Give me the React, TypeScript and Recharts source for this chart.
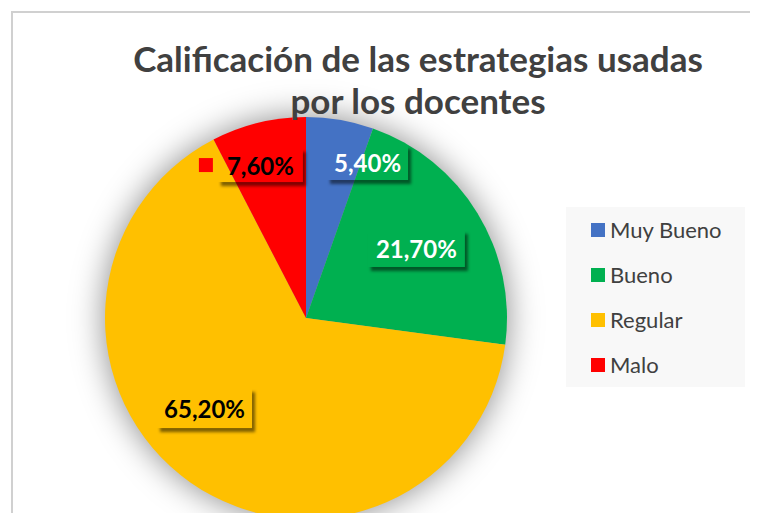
import React from 'react';
import { PieChart, Pie, Cell, Legend } from 'recharts';

const categories = ['Muy Bueno', 'Bueno', 'Regular', 'Malo'];
const values = [5.4, 21.7, 65.2, 7.6];
const labelTexts = ['5,40%', '21,70%', '65,20%', '7,60%'];
const titleLines = ['Calificación de las estrategias usadas', 'por los docentes'];

const colors = ['#4472C4', '#00B050', '#FFC000', '#FF0000'];
const labelTextColors = ['#FFFFFF', '#FFFFFF', '#000000', '#000000'];
// label placement (fraction of radius, angle in degrees), box sizes, key flag
const labelPlacement = [
  { rf: 0.832, deg: 68.4, w: 81, h: 35, key: false },
  { rf: 0.649, deg: 32.2, w: 97, h: 37, key: false },
  { rf: 0.675, deg: 221.6, w: 95, h: 40, key: false },
  { rf: 0.794, deg: 106.6, w: 85, h: 34, key: true },
];

const data = categories.map((name, i) => ({ name, value: values[i] }));

const FONT = 'Lato, "Noto Sans", sans-serif';

function renderLabel(props: any) {
  const { cx, cy, outerRadius, index } = props;
  const p = labelPlacement[index];
  const a = (p.deg * Math.PI) / 180;
  const mx = cx + outerRadius * p.rf * Math.cos(a);
  const my = cy - outerRadius * p.rf * Math.sin(a);
  const x = mx - p.w / 2;
  const y = my - p.h / 2;
  const mid = `lblmask-${index}`;
  return (
    <g key={`lbl-${index}`}>
      <defs>
        <mask id={mid} maskUnits="userSpaceOnUse" x={x - 20} y={y - 20} width={p.w + 40} height={p.h + 40}>
          <rect x={x - 20} y={y - 20} width={p.w + 40} height={p.h + 40} fill="#fff" />
          <rect x={x} y={y} width={p.w} height={p.h} fill="#000" />
        </mask>
      </defs>
      <g mask={`url(#${mid})`}>
        <rect x={x + 3} y={y + 4} width={p.w} height={p.h} fill="#000" fillOpacity={0.5} filter="url(#lblBlur)" />
      </g>
      {p.key && (
        <rect x={x - 19} y={my - 7} width={14} height={14} fill={colors[index]} />
      )}
      <text
        x={mx}
        y={my}
        textAnchor="middle"
        dominantBaseline="central"
        fill={labelTextColors[index]}
        fontFamily={FONT}
        fontWeight={700}
        fontSize={24}
      >
        {labelTexts[index]}
      </text>
    </g>
  );
}

function LegendContent() {
  return (
    <div
      style={{
        width: 179,
        height: 180,
        background: '#F8F8F8',
        boxSizing: 'border-box',
        paddingTop: 0,
        fontFamily: FONT,
      }}
    >
      {categories.map((c, i) => (
        <div key={c} style={{ display: 'flex', alignItems: 'center', height: 45, paddingLeft: 25 }}>
          <span style={{ width: 14, height: 14, background: colors[i], display: 'inline-block', marginRight: 5, flexShrink: 0 }} />
          <span style={{ fontSize: 22, color: '#404040', lineHeight: '22px' }}>{c}</span>
        </div>
      ))}
    </div>
  );
}

export default function App() {
  return (
    <div style={{ position: 'relative', width: 750, height: 505, overflow: 'hidden', background: '#fff' }}>
      <style>{`.pie-shadow { filter: url(#pieBlur); }`}</style>
      <svg width={0} height={0} style={{ position: 'absolute' }}>
        <defs>
          <filter id="pieBlur" x="-40%" y="-40%" width="180%" height="180%">
            <feGaussianBlur stdDeviation={11} />
          </filter>
          <filter id="lblBlur" x="-30%" y="-60%" width="160%" height="220%">
            <feGaussianBlur stdDeviation={1.8} />
          </filter>
        </defs>
      </svg>
      <div
        style={{
          position: 'absolute',
          left: 3,
          top: 3,
          width: 900,
          height: 700,
          borderTop: '2px solid #D0D0D0',
          borderLeft: '2px solid #D0D0D0',
        }}
      />
      <div style={{ position: 'absolute', left: 0, top: 0 }}>
        <PieChart width={750} height={520} margin={{ top: 0, right: 0, bottom: 0, left: 0 }}>
          <Pie
            data={data}
            dataKey="value"
            nameKey="name"
            cx={298}
            cy={310}
            outerRadius={203}
            startAngle={90}
            endAngle={-270}
            stroke="none"
            isAnimationActive={false}
            className="pie-shadow"
            legendType="none"
          >
            {data.map((d, i) => (
              <Cell key={`s-${i}`} fill="#000" fillOpacity={0.42} stroke="none" />
            ))}
          </Pie>
          <Pie
            data={data}
            dataKey="value"
            nameKey="name"
            cx={298}
            cy={310}
            outerRadius={201}
            startAngle={90}
            endAngle={-270}
            stroke="none"
            isAnimationActive={false}
            label={renderLabel}
            labelLine={false}
          >
            {data.map((d, i) => (
              <Cell key={`c-${i}`} fill={colors[i]} stroke="none" />
            ))}
          </Pie>
          <Legend
            content={<LegendContent />}
            wrapperStyle={{ left: 558, top: 199, width: 179, height: 180 }}
          />
        </PieChart>
      </div>
      <svg width={750} height={505} style={{ position: 'absolute', left: 0, top: 0, pointerEvents: 'none' }}>
        <text x={410} y={64} textAnchor="middle" fontFamily={FONT} fontWeight={700} fontSize={35} fill="#404040">
          {titleLines[0]}
        </text>
        <text x={410} y={106} textAnchor="middle" fontFamily={FONT} fontWeight={700} fontSize={35} fill="#404040">
          {titleLines[1]}
        </text>
      </svg>
    </div>
  );
}
